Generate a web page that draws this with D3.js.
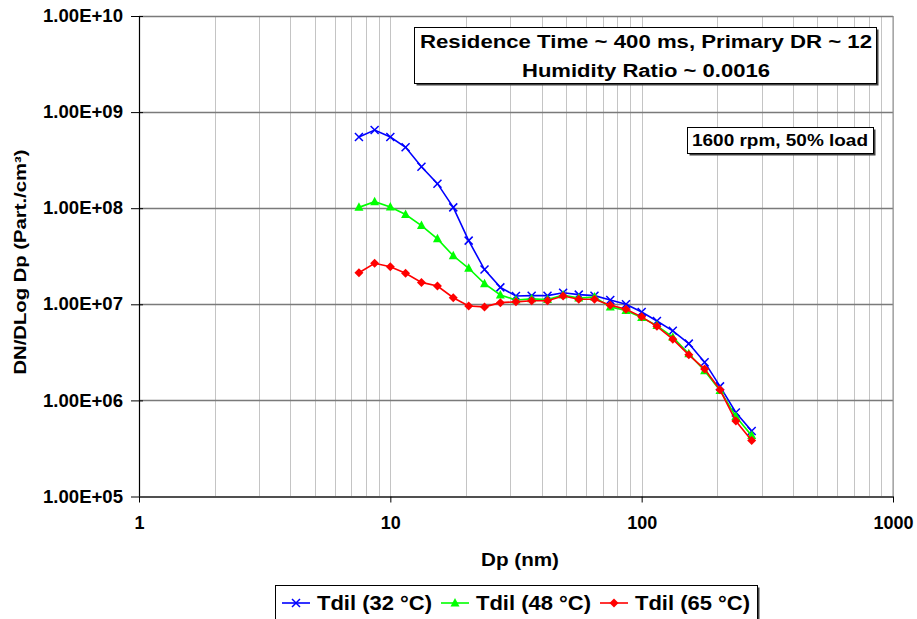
<!DOCTYPE html>
<meta charset="utf-8">
<style>
body, html {
  padding: 0;
  margin: 0;
  background: #fff;
}
text {
  font-family: Arial, "Liberation Sans", sans-serif;
  font-weight: bold;
  fill: #000;
}
</style>
<body>
<script src="https://d3js.org/d3.v7.min.js"></script>
<script>

var width = 917,
    height = 619

// particle diameter bins (nm)
var dp = [7.5, 8.66, 10.0, 11.5, 13.3, 15.4, 17.8, 20.5, 23.7, 27.4, 31.6, 36.5, 42.2,
          48.7, 56.2, 64.9, 75.0, 86.6, 100, 115, 133, 154, 178, 205, 237, 274]

var tdil32 = [5.5e8, 6.5e8, 5.5e8, 4.3e8, 2.7e8, 1.8e8, 1.02e8, 4.6e7, 2.3e7, 1.5e7, 1.22e7, 1.23e7, 1.23e7,
              1.32e7, 1.26e7, 1.23e7, 1.11e7, 1.0e7, 8.3e6, 6.7e6, 5.3e6, 3.9e6, 2.5e6, 1.4e6, 7.5e5, 4.8e5]

var tdil48 = [1.02e8, 1.17e8, 1.03e8, 8.6e7, 6.6e7, 4.8e7, 3.2e7, 2.37e7, 1.64e7, 1.25e7, 1.11e7, 1.14e7, 1.12e7,
              1.25e7, 1.16e7, 1.19e7, 9.4e6, 8.6e6, 7.3e6, 6.0e6, 4.55e6, 3.06e6, 2.04e6, 1.27e6, 6.8e5, 4.3e5]

var tdil65 = [2.13e7, 2.67e7, 2.46e7, 2.1e7, 1.69e7, 1.55e7, 1.17e7, 9.6e6, 9.4e6, 1.04e7, 1.06e7, 1.09e7, 1.09e7,
              1.22e7, 1.13e7, 1.13e7, 9.8e6, 8.9e6, 7.4e6, 5.9e6, 4.34e6, 2.98e6, 2.12e6, 1.29e6, 6.1e5, 3.83e5]

var seriesNames = ["Tdil (32 °C)", "Tdil (48 °C)", "Tdil (65 °C)"]
var seriesColors = ["#0000ff", "#00ff00", "#ff0000"]
var seriesMarkers = ["cross", "triangle", "diamond"]

var xTicks = [1, 10, 100, 1000]
var yTicks = [1e5, 1e6, 1e7, 1e8, 1e9, 1e10]
var yTickLabels = ["1.00E+05", "1.00E+06", "1.00E+07", "1.00E+08", "1.00E+09", "1.00E+10"]

var series = [tdil32, tdil48, tdil65].map(function (vals, i) {
  return {
    name: seriesNames[i],
    color: seriesColors[i],
    marker: seriesMarkers[i],
    points: vals.map(function (v, j) { return [dp[j], v] })
  }
})

var x = d3.scaleLog().domain([1, 1000]).range([139, 893])
var y = d3.scaleLog().domain([1e5, 1e10]).range([496.5, 16])

var svg = d3.select("body").append("svg")
    .attr("width", width)
    .attr("height", height)

// vertical gridlines (every 1..9 per decade)
var minor = x.ticks().filter(function (d) { return d > 1 })
svg.append("g").selectAll("line")
    .data(minor)
    .enter().append("line")
    .attr("x1", function (d) { return Math.round(x(d)) + 0.5 })
    .attr("x2", function (d) { return Math.round(x(d)) + 0.5 })
    .attr("y1", y(1e10))
    .attr("y2", y(1e5))
    .attr("stroke", "#c4c4c4")
    .attr("stroke-width", 1)

// horizontal gridlines at each decade
svg.append("g").selectAll("line")
    .data(yTicks.slice(1))
    .enter().append("line")
    .attr("x1", x(1))
    .attr("x2", x(1000))
    .attr("y1", function (d) { return Math.round(y(d)) + 0.5 })
    .attr("y2", function (d) { return Math.round(y(d)) + 0.5 })
    .attr("stroke", "#7a7a7a")
    .attr("stroke-width", 1.3)

// right border
svg.append("line")
    .attr("x1", x(1000)).attr("x2", x(1000))
    .attr("y1", y(1e10)).attr("y2", y(1e5))
    .attr("stroke", "#8a8a8a")

// axes
var yAxis = d3.axisLeft(y)
    .tickValues(yTicks)
    .tickFormat(function (d, i) { return yTickLabels[i] })
    .tickSizeInner(8)
    .tickSizeOuter(0)
    .tickPadding(8)

var gy = svg.append("g")
    .attr("transform", "translate(" + x(1) + ",0)")
    .call(yAxis)
gy.selectAll(".tick line").attr("x2", -8).attr("x1", 4).attr("stroke", "#000")
gy.select(".domain").attr("stroke", "#000").attr("stroke-width", 1.2)
gy.selectAll(".tick text")
    .style("font-size", "17.5px")
    .attr("textLength", 80)
    .attr("lengthAdjust", "spacingAndGlyphs")

var xAxis = d3.axisBottom(x)
    .tickValues(xTicks)
    .tickFormat(d3.format("d"))
    .tickSizeInner(6)
    .tickSizeOuter(0)
    .tickPadding(14)

var gx = svg.append("g")
    .attr("transform", "translate(0," + y(1e5) + ")")
    .call(xAxis)
gx.selectAll(".tick line").attr("stroke", "#000")
gx.select(".domain").attr("stroke", "#505050").attr("stroke-width", 2)
gx.selectAll(".tick text").style("font-size", "18px")

// axis titles
svg.append("text")
    .attr("x", 520)
    .attr("y", 566)
    .attr("text-anchor", "middle")
    .style("font-size", "18px")
    .attr("textLength", 78)
    .attr("lengthAdjust", "spacingAndGlyphs")
    .text("Dp (nm)")

svg.append("text")
    .attr("transform", "translate(26,262) rotate(-90)")
    .attr("text-anchor", "middle")
    .style("font-size", "16px")
    .attr("textLength", 225)
    .attr("lengthAdjust", "spacingAndGlyphs")
    .text("DN/DLog Dp (Part./cm³)")

// series
var line = d3.line()
    .x(function (d) { return x(d[0]) })
    .y(function (d) { return y(d[1]) })

function marker (sel, type, color) {
  if (type === "cross") {
    sel.append("path")
      .attr("d", "M-4,-4L4,4M-4,4L4,-4")
      .attr("stroke", color)
      .attr("stroke-width", 1.5)
      .attr("fill", "none")
  } else if (type === "triangle") {
    sel.append("path")
      .attr("d", "M0,-5L4.5,3.5L-4.5,3.5Z")
      .attr("fill", color)
  } else {
    sel.append("path")
      .attr("d", "M0,-4.5L4.5,0L0,4.5L-4.5,0Z")
      .attr("fill", color)
  }
}

series.forEach(function (s) {
  var g = svg.append("g")
  g.append("path")
    .datum(s.points)
    .attr("d", line)
    .attr("fill", "none")
    .attr("stroke", s.color)
    .attr("stroke-width", 1.6)
  g.selectAll(".m")
    .data(s.points)
    .enter().append("g")
    .attr("class", "m")
    .attr("transform", function (d) { return "translate(" + x(d[0]) + "," + y(d[1]) + ")" })
    .each(function () { marker(d3.select(this), s.marker, s.color) })
})

// annotation boxes (with Excel-style shadow)
function box (x0, y0, w, h) {
  svg.append("rect")
    .attr("x", x0 + 2.5).attr("y", y0 + 2.5)
    .attr("width", w).attr("height", h)
    .attr("fill", "#404040")
  svg.append("rect")
    .attr("x", x0 + 0.5).attr("y", y0 + 0.5)
    .attr("width", w).attr("height", h)
    .attr("fill", "#fff")
    .attr("stroke", "#000")
    .attr("stroke-width", 1)
}

box(414, 27, 462, 56)
svg.append("text")
    .attr("x", 646).attr("y", 48)
    .attr("text-anchor", "middle")
    .style("font-size", "18px")
    .attr("textLength", 452)
    .attr("lengthAdjust", "spacingAndGlyphs")
    .text("Residence Time ~ 400 ms, Primary DR ~ 12")
svg.append("text")
    .attr("x", 646).attr("y", 77)
    .attr("text-anchor", "middle")
    .style("font-size", "18px")
    .attr("textLength", 248)
    .attr("lengthAdjust", "spacingAndGlyphs")
    .text("Humidity Ratio ~ 0.0016")

box(687, 127, 186, 26)
svg.append("text")
    .attr("x", 780).attr("y", 146)
    .attr("text-anchor", "middle")
    .style("font-size", "17px")
    .attr("textLength", 176)
    .attr("lengthAdjust", "spacingAndGlyphs")
    .text("1600 rpm, 50% load")

// legend
box(275, 585, 482, 44)
var legendX = [282, 441, 600]
var leg = svg.append("g").selectAll("g")
    .data(series)
    .enter().append("g")
    .attr("transform", function (d, i) { return "translate(" + legendX[i] + ",603)" })

leg.append("line")
    .attr("x1", 0).attr("x2", 28)
    .attr("stroke", function (d) { return d.color })
    .attr("stroke-width", 1.6)
leg.append("g")
    .attr("transform", "translate(14,0)")
    .each(function (d) { marker(d3.select(this), d.marker, d.color) })
leg.append("text")
    .attr("x", 35)
    .attr("y", 7)
    .style("font-size", "20px")
    .attr("textLength", 115)
    .attr("lengthAdjust", "spacingAndGlyphs")
    .text(function (d) { return d.name })

</script>
</body>
